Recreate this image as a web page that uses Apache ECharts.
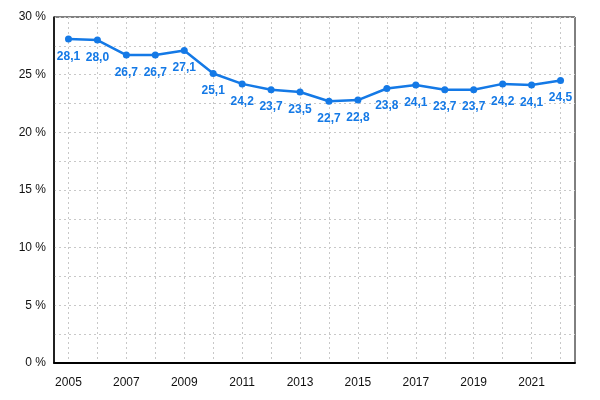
<!DOCTYPE html>
<html><head><meta charset="utf-8">
<script src="https://cdn.jsdelivr.net/npm/echarts@6/dist/echarts.min.js"></script>
<style>html,body{margin:0;padding:0;background:#fff}#c{width:600px;height:400px}</style>
</head><body><div id="c"></div>
<script>
const years = ['2005','2006','2007','2008','2009','2010','2011','2012','2013','2014','2015','2016','2017','2018','2019','2020','2021','2022'];
const values = [28.1,28.0,26.7,26.7,27.1,25.1,24.2,23.7,23.5,22.7,22.8,23.8,24.1,23.7,23.7,24.2,24.1,24.5];
const halfSteps = [];
for (let i = 0; i <= years.length * 2; i++) halfSteps.push(String(i));
const chart = echarts.init(document.getElementById('c'));
chart.setOption({
  animation:false,
  grid:{left:54,right:25,top:17,bottom:37,show:true,borderColor:'#000',borderWidth:1},
  xAxis:[{type:'category',data:years,boundaryGap:true,
    axisLine:{lineStyle:{color:'#000',width:2}},
    axisTick:{show:false},
    axisLabel:{interval:1,color:'#111',fontSize:12,fontFamily:'Liberation Sans, Arial',margin:14},
    splitLine:{show:false}
  },{type:'category',data:halfSteps,boundaryGap:false,position:'bottom',
    axisLine:{show:false},axisTick:{show:false},axisLabel:{show:false},
    splitLine:{show:true,interval:(i)=>i%2===1,lineStyle:{type:[2,3],color:'#c8c8c8'}}
  }],
  yAxis:{type:'value',min:0,max:30,interval:2.5,
    axisLine:{show:true,lineStyle:{color:'#000',width:1.5}},
    axisTick:{show:false},
    axisLabel:{color:'#111',fontSize:12,fontFamily:'Liberation Sans, Arial',margin:8,
      formatter:v=> (v%5===0? v+' %':'')},
    splitLine:{lineStyle:{type:[2,3],color:'#c8c8c8'}}
  },
  series:[{type:'line',xAxisIndex:0,data:values,symbol:'circle',symbolSize:7,
    lineStyle:{color:'#1479e6',width:2.5},itemStyle:{color:'#1479e6'},
    label:{show:true,position:'bottom',distance:8,color:'#1479e6',fontWeight:'bold',fontSize:12,
      fontFamily:'Liberation Sans, Arial',
      formatter:p=>p.value.toFixed(1).replace('.',',')}
  }]
});
</script></body></html>
